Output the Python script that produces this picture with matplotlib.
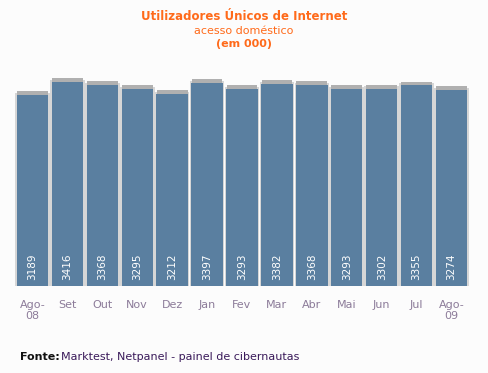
import matplotlib.pyplot as plt
import numpy as np

months = ['Ago-\n08', 'Set', 'Out', 'Nov', 'Dez', 'Jan', 'Fev', 'Mar', 'Abr',
          'Mai', 'Jun', 'Jul', 'Ago-\n09']
users = [3189, 3416, 3368, 3295, 3212, 3397, 3293, 3382, 3368, 3293, 3302, 3355, 3274]

bar_color = '#5a7fa0'
orange = '#ff6a1a'
bg = '#fcfcfc'

fig = plt.figure(figsize=(4.88, 3.73), dpi=100, facecolor=bg)
ax = fig.add_axes([15 / 488, 1 - 286 / 373, 454 / 488, 226 / 373])
ax.set_facecolor(bg)

x = np.arange(len(users))
vals = np.array(users)
# soft shadow behind the bars
ax.bar(x, vals + 35, width=0.99, color='#d6d6d6', zorder=1)
ax.bar(x, vals + 65, width=0.88, color='#b0b0b0', zorder=2)
ax.bar(x, vals, width=0.9, color=bar_color, zorder=3)

for xi, v in zip(x, users):
    ax.text(xi, 320, str(v), rotation=90, ha='center', va='center',
            color='white', fontsize=7.5, zorder=4)

ax.set_xlim(-0.5, len(users) - 0.5)
ax.set_ylim(0, 3780)
ax.set_xticks(x)
ax.set_xticklabels(months, color='#8c7b99', fontsize=8, linespacing=1.2)
ax.tick_params(axis='x', length=0, pad=10)
ax.set_yticks([])
for s in ax.spines.values():
    s.set_visible(False)

fig.text(0.5, 1 - 17 / 373, 'Utilizadores Únicos de Internet', ha='center', va='center',
         color=orange, fontsize=8.5, fontweight='bold')
fig.text(0.5, 1 - 31 / 373, 'acesso doméstico', ha='center', va='center',
         color=orange, fontsize=8)
fig.text(0.5, 1 - 44 / 373, '(em 000)', ha='center', va='center',
         color=orange, fontsize=8, fontweight='bold')

fig.text(20 / 488, 1 - 357 / 373, 'Fonte:', ha='left', va='center',
         color='#111111', fontsize=8, fontweight='bold')
fig.text(61 / 488, 1 - 357 / 373, 'Marktest, Netpanel - painel de cibernautas',
         ha='left', va='center', color='#3a1a5a', fontsize=8)

fig.savefig('out.png', dpi=100, facecolor=bg)
